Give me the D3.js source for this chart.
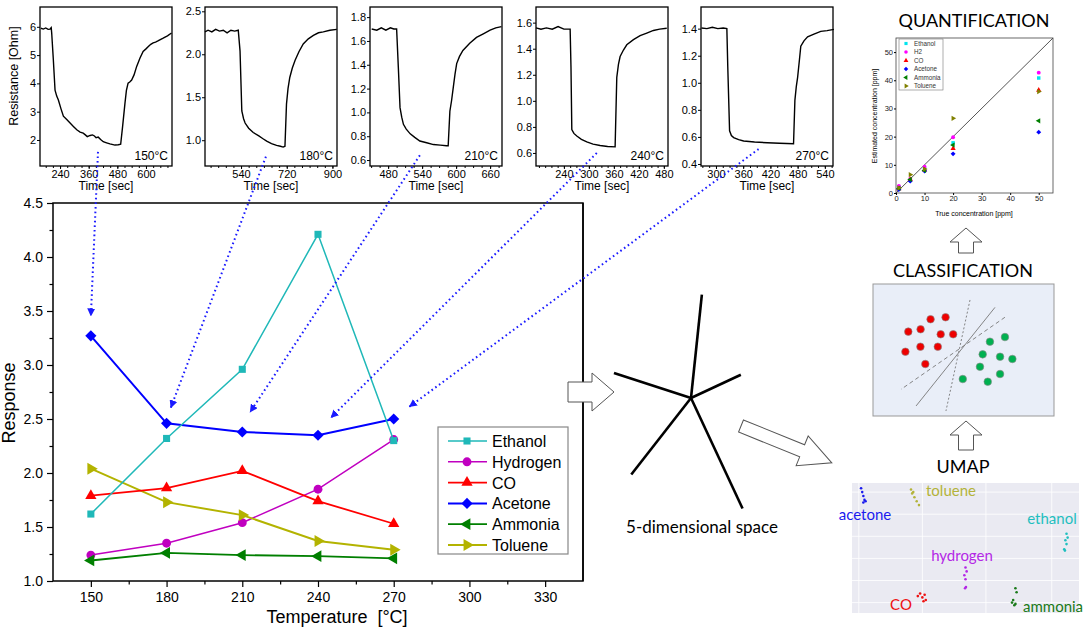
<!DOCTYPE html>
<html><head><meta charset="utf-8">
<script src="https://cdn.jsdelivr.net/npm/d3@7"></script>
<style>body{margin:0;background:#fff}svg{display:block}</style>
</head><body>
<svg id="c" width="1084" height="633"></svg>
<script>
// ---------------- DATA ----------------
const temps = [150,180,210,240,270];
const ethanol  = [1.62,2.32,2.96,4.21,2.30];
const hydrogen = [1.24,1.35,1.54,1.85,2.31];
const co       = [1.79,1.86,2.02,1.74,1.53];
const acetone  = [3.27,2.46,2.38,2.35,2.50];
const ammonia  = [1.19,1.26,1.24,1.23,1.21];
const toluene  = [2.04,1.73,1.61,1.37,1.29];
const gasNames = ["Ethanol","Hydrogen","CO","Acetone","Ammonia","Toluene"];
const tempTicks = [150,180,210,240,270,300,330];
const respTicks = [1.0,1.5,2.0,2.5,3.0,3.5,4.0,4.5];

// transient curves (time [sec], resistance [Ohm])
const t150 = [160,170,180,190,198,203,205,212,219,226,233,244,254,268,282,296,310,324,337,346,354,366,376,384,391,400,410,421,435,449,470,484,494,502,512,518,525,532,540,550,561,575,588,600,610,620,630,640,650,660,672,690,707];
const r150 = [5.95,5.92,5.96,5.91,5.92,5.97,5.78,4.82,3.76,3.55,3.41,3.10,2.84,2.72,2.60,2.48,2.36,2.28,2.24,2.18,2.12,2.16,2.18,2.14,2.08,2.10,2.02,1.94,1.90,1.86,1.82,1.83,1.85,2.47,3.30,3.75,4.01,4.05,4.12,4.30,4.60,4.90,5.13,5.22,5.30,5.38,5.43,5.46,5.50,5.55,5.60,5.68,5.78];
const t180 = [398,410,425,440,455,470,485,500,515,529,536,543,550,556,570,588,610,625,641,660,680,695,706,713,719,725,732,742,753,768,785,805,825,845,864,890,917];
const r180 = [2.26,2.28,2.26,2.29,2.27,2.28,2.25,2.28,2.27,2.28,2.04,1.34,1.25,1.20,1.14,1.09,1.05,1.02,0.99,0.96,0.94,0.93,0.92,0.93,1.42,1.60,1.73,1.84,1.93,2.03,2.12,2.18,2.22,2.25,2.26,2.28,2.29];
const t210 = [451,460,468,476,484,490,495,498,501,504,507,512,519,527,536,548,560,572,583,586,589,592,595,598,601,606,612,624,636,648,660,670,680];
const r210 = [1.70,1.69,1.71,1.69,1.71,1.70,1.70,1.38,1.04,0.96,0.90,0.86,0.82,0.79,0.76,0.745,0.73,0.725,0.72,0.72,1.01,1.10,1.21,1.32,1.41,1.47,1.52,1.58,1.63,1.66,1.69,1.71,1.72];
const t240 = [173,185,198,212,226,240,255,257,259,264,271,282,295,310,327,345,363,367,371,375,383,391,407,423,439,455,470,487];
const r240 = [1.56,1.55,1.56,1.55,1.57,1.55,1.55,1.26,0.78,0.75,0.73,0.705,0.685,0.668,0.657,0.65,0.647,1.18,1.28,1.34,1.39,1.43,1.47,1.50,1.52,1.54,1.55,1.557];
const t270 = [268,280,292,304,316,324,326,330,334,339,350,361,385,413,440,471,474,477,480,484,487,494,502,516,531,545,560];
const r270 = [1.405,1.40,1.41,1.40,1.405,1.40,1.12,0.645,0.61,0.595,0.58,0.57,0.562,0.557,0.553,0.55,0.87,0.97,1.04,1.17,1.27,1.31,1.34,1.36,1.38,1.385,1.395];
const panelLabels = ["150°C","180°C","210°C","240°C","270°C"];

// arrows: source (time, resistance) in panel, target (temperature, response)
const arrowSrcT = [399,638,536,319,394];
const arrowSrcR = [1.58,0.81,0.64,0.60,0.51];
const arrowDstT = [150,181.6,213,245,276];
const arrowDstR = [3.45,2.60,2.56,2.51,2.61];

// quantification
const trueConc = [1,5,10,20,50];
const qEthanol = [2.0,4.5,8.5,17.8,40.8];
const qH2      = [2.5,5.0,9.3,19.8,42.7];
const qCO      = [1.5,4.8,8.2,15.8,36.5];
const qAcetone = [1.2,4.2,7.8,13.9,21.6];
const qAmmonia = [1.6,4.8,8.0,17.0,25.6];
const qToluene = [1.8,6.5,8.5,26.5,36.0];
const qNames = ["Ethanol","H2","CO","Acetone","Ammonia","Toluene"];
const qTicks = [0,10,20,30,40,50];

// classification (abstract 0-100 space)
const redX = [19.5,26.3,31.8,40.1,37.4,44.3,17.9,26.2,35.8,28.9];
const redY = [63.9,65.7,73.3,74.8,61.9,61.9,48.7,52.5,52.5,39.4];
const greenX = [64.6,72.9,60.6,70.2,77.0,59.1,70.2,49.6,63.4];
const greenY = [56.3,59.8,46.7,44.9,43.2,37.3,31.8,28.0,26.0];
const sepLines = [[53.6,87.9,40.3,3.8],[67.4,82.3,23.8,7.6],[72.9,74.8,15.5,20.2]];

// UMAP embedding (abstract 0-100 space)
const umapNames = ["acetone","toluene","ethanol","hydrogen","CO","ammonia"];
const umapAcetoneX = [4,4.5,5,5.5,5,6], umapAcetoneY = [96,93,90,87,85,86];
const umapTolueneX = [26,26.5,27.5,28.5,29.5,27], umapTolueneY = [95,92,89,86,83,93];
const umapEthanolX = [94.5,95,94,94.5,93.5,93.8], umapEthanolY = [61,58,56,53,49,48];
const umapHydrogenX = [50,50.5,49.5,50,50.2,49.8], umapHydrogenY = [35,32,29,26,20,19];
const umapCOX = [29,30,31,32,32.5,31.5], umapCOY = [13,15,12,14,10,9];
const umapAmmoniaX = [72,72.5,71,70.5,71.5,72], umapAmmoniaY = [19,16,10,8,6,7];

// ---------------- DRAW ----------------
const svg = d3.select("#c");
const ARIAL = "'Liberation Sans', Arial, sans-serif";
const CAL = "Lato, 'Open Sans', sans-serif";
const gasColors = ["#1fb8b8","#c000c0","#ff0000","#0000ff","#007f00","#b3b300"];

svg.append("defs").append("marker").attr("id","ah")
  .attr("viewBox","0 0 10 10").attr("refX",10).attr("refY",5)
  .attr("markerWidth",8).attr("markerHeight",8).attr("markerUnits","userSpaceOnUse").attr("orient","auto")
  .append("path").attr("d","M0,0L10,5L0,10z").attr("fill","#1a1aff");

// ---- small transient panels ----
const panelCfg = [
  {x0:40,x1:172,xd:[156,709],yd:[1.08,6.7],xt:[240,360,480,600],xm:30,yt:[2,3,4,5,6],fmt:d3.format("d"),t:t150,r:r150},
  {x0:205,x1:337,xd:[398,918],yd:[0.70,2.55],xt:[540,720,900],xm:30,yt:[1.0,1.5,2.0,2.5],fmt:d3.format(".1f"),t:t180,r:r180},
  {x0:370,x1:502,xd:[448,681],yd:[0.55,1.885],xt:[480,540,600,660],xm:15,yt:[0.6,0.8,1.0,1.2,1.4,1.6,1.8],fmt:d3.format(".1f"),t:t210,r:r210},
  {x0:536,x1:668,xd:[173,490],yd:[0.50,1.72],xt:[240,300,360,420,480],xm:15,yt:[0.6,0.8,1.0,1.2,1.4,1.6],fmt:d3.format(".1f"),t:t240,r:r240},
  {x0:701,x1:833,xd:[267,558],yd:[0.385,1.56],xt:[300,360,420,480,540],xm:15,yt:[0.4,0.6,0.8,1.0,1.2,1.4],fmt:d3.format(".1f"),t:t270,r:r270}
];
const PY0 = 7, PY1 = 166;
const panelScales = [];
panelCfg.forEach((c,i)=>{
  const x = d3.scaleLinear(c.xd,[c.x0,c.x1]);
  const y = d3.scaleLinear(c.yd,[PY1,PY0]);
  panelScales.push({x,y});
  const g = svg.append("g");
  g.append("path").datum(d3.zip(c.t,c.r))
    .attr("d",d3.line().x(d=>x(d[0])).y(d=>y(d[1])))
    .attr("fill","none").attr("stroke","#000").attr("stroke-width",1.4);
  g.append("rect").attr("x",c.x0).attr("y",PY0).attr("width",c.x1-c.x0).attr("height",PY1-PY0)
    .attr("fill","none").attr("stroke","#000").attr("stroke-width",1.3);
  const minor = d3.range(Math.ceil(c.xd[0]/c.xm)*c.xm, c.xd[1], c.xm);
  g.append("g").attr("transform",`translate(0,${PY1})`)
    .call(d3.axisBottom(x).tickValues(minor).tickSize(2).tickFormat("").tickSizeOuter(0))
    .call(a=>a.select(".domain").remove());
  g.append("g").attr("transform",`translate(0,${PY1})`)
    .call(d3.axisBottom(x).tickValues(c.xt).tickSize(3).tickPadding(1).tickFormat(d3.format("d")).tickSizeOuter(0))
    .call(a=>{a.select(".domain").remove();a.selectAll("text").attr("font-family",ARIAL).attr("font-size",11).attr("fill","#000");});
  g.append("g").attr("transform",`translate(${c.x0},0)`)
    .call(d3.axisLeft(y).tickValues(c.yt).tickSize(3).tickPadding(1).tickFormat(c.fmt).tickSizeOuter(0))
    .call(a=>{a.select(".domain").remove();a.selectAll("text").attr("font-family",ARIAL).attr("font-size",11).attr("fill","#000");});
  g.append("text").attr("x",(c.x0+c.x1)/2).attr("y",190).attr("text-anchor","middle")
    .attr("font-family",ARIAL).attr("font-size",12).text("Time [sec]");
  g.append("text").attr("x",c.x1-4).attr("y",160).attr("text-anchor","end")
    .attr("font-family",ARIAL).attr("font-size",12).text(panelLabels[i]);
});
svg.append("text").attr("transform","translate(18,76) rotate(-90)").attr("text-anchor","middle")
  .attr("font-family",ARIAL).attr("font-size",12.5).text("Resistance [Ohm]");

// ---- main chart ----
const X0=53,X1=583,Y0=203,Y1=581;
const mx = d3.scaleLinear([135,345],[X0,X1]);
const my = d3.scaleLinear([1,4.5],[Y1,Y0]);
const main = svg.append("g");
main.append("rect").attr("x",X0).attr("y",Y0).attr("width",X1-X0).attr("height",Y1-Y0)
  .attr("fill","none").attr("stroke","#000").attr("stroke-width",1.5);
main.append("g").attr("transform",`translate(${X0},0)`)
  .call(d3.axisLeft(my).tickValues(d3.range(1.25,4.5,0.5)).tickSize(3.5).tickFormat("").tickSizeOuter(0))
  .call(a=>a.select(".domain").remove()).selectAll("line").attr("stroke-width",1.2);
main.append("g").attr("transform",`translate(${X0},0)`)
  .call(d3.axisLeft(my).tickValues(respTicks).tickSize(6).tickPadding(4).tickFormat(d3.format(".1f")).tickSizeOuter(0))
  .call(a=>{a.select(".domain").remove();a.selectAll("line").attr("stroke-width",1.2);a.selectAll("text").attr("font-family",ARIAL).attr("font-size",14).attr("fill","#000");});
main.append("g").attr("transform",`translate(0,${Y1})`)
  .call(d3.axisBottom(mx).tickValues(d3.range(165,345,30)).tickSize(3.5).tickFormat("").tickSizeOuter(0))
  .call(a=>a.select(".domain").remove()).selectAll("line").attr("stroke-width",1.2);
main.append("g").attr("transform",`translate(0,${Y1})`)
  .call(d3.axisBottom(mx).tickValues(tempTicks).tickSize(6).tickPadding(5).tickFormat(d3.format("d")).tickSizeOuter(0))
  .call(a=>{a.select(".domain").remove();a.selectAll("line").attr("stroke-width",1.2);a.selectAll("text").attr("font-family",ARIAL).attr("font-size",14).attr("fill","#000");});
main.append("text").attr("transform","translate(15,403) rotate(-90)").attr("text-anchor","middle")
  .attr("font-family",ARIAL).attr("font-size",18).text("Response");
main.append("text").attr("x",337).attr("y",623).attr("text-anchor","middle")
  .attr("font-family",ARIAL).attr("font-size",18).attr("xml:space","preserve").text("Temperature  [°C]");

const series = [ethanol,hydrogen,co,acetone,ammonia,toluene];
const symTypes = [d3.symbolSquare,d3.symbolCircle,d3.symbolTriangle,d3.symbolSquare,d3.symbolTriangle,d3.symbolTriangle];
const symRot = [0,0,0,45,-90,90];
const symSize = [50,62,55,62,60,62];
const lineW = [1.5,1.5,1.8,2,1.8,2];
const drawOrder = [1,4,5,2,3,0];
drawOrder.forEach(i=>{
  const data = d3.zip(temps,series[i]);
  main.append("path").datum(data).attr("d",d3.line().x(d=>mx(d[0])).y(d=>my(d[1])))
    .attr("fill","none").attr("stroke",gasColors[i]).attr("stroke-width",lineW[i]);
  main.selectAll(null).data(data).join("path")
    .attr("d",d3.symbol(symTypes[i],symSize[i]))
    .attr("transform",d=>`translate(${mx(d[0])},${my(d[1])}) rotate(${symRot[i]})`)
    .attr("fill",gasColors[i]);
});
// legend
const lg = main.append("g");
lg.append("rect").attr("x",438).attr("y",427).attr("width",130).attr("height",127)
  .attr("fill","#fff").attr("stroke","#888").attr("stroke-width",1.2);
gasNames.forEach((n,i)=>{
  const yy = 441 + i*20.8;
  lg.append("line").attr("x1",448).attr("x2",487).attr("y1",yy).attr("y2",yy).attr("stroke",gasColors[i]).attr("stroke-width",lineW[i]);
  lg.append("path").attr("d",d3.symbol(symTypes[i],symSize[i])).attr("transform",`translate(467,${yy}) rotate(${symRot[i]})`).attr("fill",gasColors[i]);
  lg.append("text").attr("x",492).attr("y",yy+6).attr("font-family",ARIAL).attr("font-size",16).text(n);
});

// dotted arrows
arrowSrcT.forEach((t,i)=>{
  const s = panelScales[i];
  svg.append("line").attr("x1",s.x(t)).attr("y1",s.y(arrowSrcR[i]))
    .attr("x2",mx(arrowDstT[i])).attr("y2",my(arrowDstR[i]))
    .attr("stroke","#1a1aff").attr("stroke-width",2).attr("stroke-dasharray","1.6,3")
    .attr("marker-end","url(#ah)");
});

// ---- hollow arrows ----
function hollowArrow(cx,cy,len,bodyHW,headHW,headLen,angle){
  const pts=[[0,-bodyHW],[len-headLen,-bodyHW],[len-headLen,-headHW],[len,0],[len-headLen,headHW],[len-headLen,bodyHW],[0,bodyHW]];
  svg.append("path").attr("d","M"+pts.join("L")+"Z")
    .attr("transform",`translate(${cx},${cy}) rotate(${angle})`)
    .attr("fill","#fff").attr("stroke","#555").attr("stroke-width",1);
}
hollowArrow(568,392,46,10,19,22,0);
hollowArrow(741,426,98,6.5,16,32,22.1);
hollowArrow(966,253,25,7.5,16,14,-90);
hollowArrow(966,450,29,7.5,16,14,-90);
main.append("line").attr("x1",X1).attr("x2",X1).attr("y1",Y0).attr("y2",Y1).attr("stroke","#000").attr("stroke-width",1.5);

// ---- 5-dimensional star ----
const starAng = [-84,-162,-25,128,65];
const starLen = [104,81,55,97,122];
const SC = [691,398];
starAng.forEach((a,i)=>{
  const r = a*Math.PI/180;
  svg.append("line").attr("x1",SC[0]).attr("y1",SC[1])
    .attr("x2",SC[0]+starLen[i]*Math.cos(r)).attr("y2",SC[1]+starLen[i]*Math.sin(r))
    .attr("stroke","#000").attr("stroke-width",2.6).attr("stroke-linecap","butt");
});
svg.append("text").attr("x",702).attr("y",533).attr("text-anchor","middle")
  .attr("font-family",CAL).attr("font-size",17).text("5-dimensional space");

// ---- quantification ----
svg.append("text").attr("x",974).attr("y",27).attr("text-anchor","middle")
  .attr("font-family",CAL).attr("font-size",18).text("QUANTIFICATION");
const qx = d3.scaleLinear([0,55],[896,1053]);
const qy = d3.scaleLinear([0,55],[193,38]);
const q = svg.append("g");
q.append("line").attr("x1",qx(0)).attr("y1",qy(0)).attr("x2",qx(55)).attr("y2",qy(55)).attr("stroke","#555").attr("stroke-width",1);
q.append("rect").attr("x",896).attr("y",38).attr("width",157).attr("height",155).attr("fill","none").attr("stroke","#444").attr("stroke-width",0.8);
q.append("g").attr("transform","translate(0,193)")
  .call(d3.axisBottom(qx).tickValues(qTicks).tickSize(2).tickPadding(1).tickSizeOuter(0))
  .call(a=>{a.select(".domain").remove();a.selectAll("text").attr("font-family",ARIAL).attr("font-size",7.5).attr("fill","#222");});
q.append("g").attr("transform","translate(896,0)")
  .call(d3.axisLeft(qy).tickValues(qTicks).tickSize(2).tickPadding(1).tickSizeOuter(0))
  .call(a=>{a.select(".domain").remove();a.selectAll("text").attr("font-family",ARIAL).attr("font-size",7.5).attr("fill","#222");});
q.append("text").attr("x",974).attr("y",216).attr("text-anchor","middle").attr("font-family",ARIAL).attr("font-size",7).text("True concentration [ppm]");
q.append("text").attr("transform","translate(877,116) rotate(-90)").attr("text-anchor","middle").attr("font-family",ARIAL).attr("font-size",7).text("Estimated concentration [ppm]");
const qSeries = [qEthanol,qH2,qCO,qAcetone,qAmmonia,qToluene];
const qColors = ["#00e5ee","#ff00ff","#ff0000","#0000ff","#007f00","#808000"];
qSeries.forEach((s,i)=>{
  q.selectAll(null).data(d3.zip(trueConc,s)).join("path")
    .attr("d",d3.symbol(symTypes[i],12))
    .attr("transform",d=>`translate(${qx(d[0])},${qy(d[1])}) rotate(${symRot[i]})`)
    .attr("fill",qColors[i]);
});
q.append("rect").attr("x",899).attr("y",39).attr("width",44).attr("height",51).attr("fill","#fff").attr("stroke","#777").attr("stroke-width",0.6);
qNames.forEach((n,i)=>{
  const yy = 43.5 + i*8.5;
  q.append("path").attr("d",d3.symbol(symTypes[i],10)).attr("transform",`translate(906,${yy}) rotate(${symRot[i]})`).attr("fill",qColors[i]);
  q.append("text").attr("x",914).attr("y",yy+2.3).attr("font-family",ARIAL).attr("font-size",6.3).attr("fill","#333").text(n);
});

// ---- classification ----
svg.append("text").attr("x",963).attr("y",277).attr("text-anchor","middle")
  .attr("font-family",CAL).attr("font-size",18).text("CLASSIFICATION");
const cx = d3.scaleLinear([0,100],[873,1054]);
const cy = d3.scaleLinear([0,100],[416,284]);
const cg = svg.append("g");
cg.append("rect").attr("x",873).attr("y",284).attr("width",181).attr("height",132).attr("fill","#e9eef8").attr("stroke","#999").attr("stroke-width",1);
const dashes = ["2,2",null,"4,3"];
sepLines.forEach((l,i)=>{
  cg.append("line").attr("x1",cx(l[0])).attr("y1",cy(l[1])).attr("x2",cx(l[2])).attr("y2",cy(l[3]))
    .attr("stroke","#777").attr("stroke-width",0.9).attr("stroke-dasharray",dashes[i]);
});
cg.selectAll(null).data(d3.zip(redX,redY)).join("circle").attr("cx",d=>cx(d[0])).attr("cy",d=>cy(d[1])).attr("r",3.8).attr("fill","#ee0000").attr("stroke","#888").attr("stroke-width",0.6);
cg.selectAll(null).data(d3.zip(greenX,greenY)).join("circle").attr("cx",d=>cx(d[0])).attr("cy",d=>cy(d[1])).attr("r",3.8).attr("fill","#00b050").attr("stroke","#888").attr("stroke-width",0.6);

// ---- UMAP ----
svg.append("text").attr("x",963).attr("y",473).attr("text-anchor","middle")
  .attr("font-family",CAL).attr("font-size",18).text("UMAP");
const ux = d3.scaleLinear([0,100],[852,1079]);
const uy = d3.scaleLinear([0,100],[613,483]);
const ug = svg.append("g");
ug.append("rect").attr("x",852).attr("y",483).attr("width",227).attr("height",130).attr("fill","#eaeaf2");
[8,25,42,59,76,93].forEach(v=>ug.append("line").attr("x1",852).attr("x2",1079).attr("y1",uy(v)).attr("y2",uy(v)).attr("stroke","#fff").attr("stroke-width",0.8));
[3,31,59,88].forEach(v=>ug.append("line").attr("y1",483).attr("y2",613).attr("x1",ux(v)).attr("x2",ux(v)).attr("stroke","#fff").attr("stroke-width",0.8));
const uSets = [[umapAcetoneX,umapAcetoneY],[umapTolueneX,umapTolueneY],[umapEthanolX,umapEthanolY],[umapHydrogenX,umapHydrogenY],[umapCOX,umapCOY],[umapAmmoniaX,umapAmmoniaY]];
const uColors = ["#1a1aee","#b3b33a","#1fbfbf","#b428e6","#ee1111","#1a7a1a"];
uSets.forEach((s,i)=>{
  ug.selectAll(null).data(d3.zip(s[0],s[1])).join("circle").attr("cx",d=>ux(d[0])).attr("cy",d=>uy(d[1])).attr("r",1.3).attr("fill",uColors[i]);
});
const uLab = [[865,520,"middle"],[926,496,"start"],[1052,524,"middle"],[962,561,"middle"],[901,610,"middle"],[1023,612,"start"]];
umapNames.forEach((n,i)=>{
  svg.append("text").attr("x",uLab[i][0]).attr("y",uLab[i][1]).attr("text-anchor",uLab[i][2])
    .attr("font-family",CAL).attr("font-size",15).attr("fill",uColors[i]).text(n);
});
</script>
</body></html>
